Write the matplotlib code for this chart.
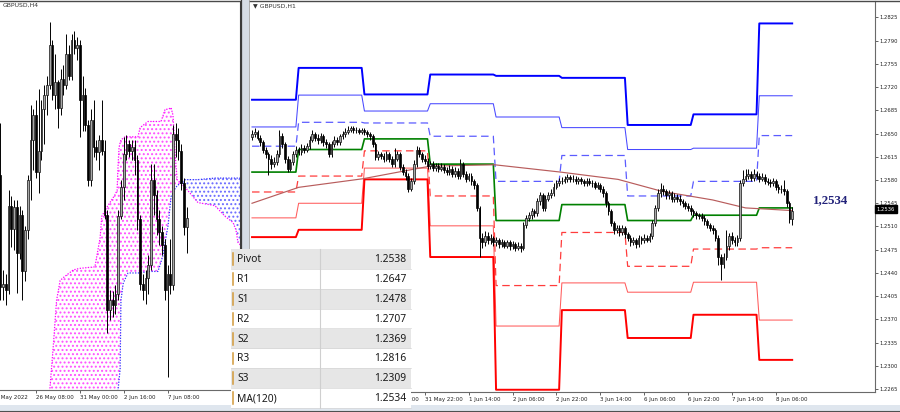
import numpy as np
import matplotlib
matplotlib.use("Agg")
import matplotlib.pyplot as plt
from matplotlib.patches import Rectangle

plt.rcParams['font.family'] = ['DejaVu Sans']
plt.rcParams['hatch.linewidth'] = 0.9

# ================= DATA : right chart, GBPUSD H1 =================
h1_first_open = 1.2645
h1_close = [1.2649, 1.2652, 1.2644, 1.2637, 1.2626, 1.2619, 1.2612, 1.2604, 1.2607, 1.2619,
            1.2646, 1.2634, 1.2612, 1.2597, 1.2607, 1.2619, 1.2626, 1.2622, 1.2629, 1.2626,
            1.2631, 1.2641, 1.2649, 1.2644, 1.2640, 1.2646, 1.2637, 1.2634, 1.2619, 1.2634,
            1.2641, 1.2637, 1.2646, 1.2649, 1.2653, 1.2656, 1.2658, 1.2655, 1.2656, 1.2653,
            1.2655, 1.2652, 1.2649, 1.2646, 1.2634, 1.2615, 1.2619, 1.2616, 1.2612, 1.2619,
            1.2612, 1.2604, 1.2612, 1.2619, 1.2600, 1.2592, 1.2586, 1.2567, 1.2578, 1.2604,
            1.2626, 1.2619, 1.2612, 1.2609, 1.2601, 1.2604, 1.2598, 1.2601, 1.2597, 1.2600,
            1.2595, 1.2592, 1.2597, 1.2589, 1.2594, 1.2586, 1.2604, 1.2589, 1.2582, 1.2586,
            1.2578, 1.2572, 1.2538, 1.2493, 1.2486, 1.2496, 1.2489, 1.2492, 1.2486, 1.2489,
            1.2483, 1.2486, 1.2481, 1.2486, 1.2480, 1.2483, 1.2478, 1.2481, 1.2477, 1.2512,
            1.2523, 1.2527, 1.2533, 1.2530, 1.2548, 1.2557, 1.2538, 1.2552, 1.2557, 1.2560,
            1.2570, 1.2575, 1.2578, 1.2579, 1.2581, 1.2584, 1.2581, 1.2582, 1.2578, 1.2581,
            1.2578, 1.2575, 1.2579, 1.2576, 1.2575, 1.2570, 1.2572, 1.2567, 1.2560, 1.2545,
            1.2533, 1.2515, 1.2504, 1.2508, 1.2501, 1.2507, 1.2498, 1.2493, 1.2486, 1.2489,
            1.2483, 1.2492, 1.2489, 1.2493, 1.2490, 1.2495, 1.2515, 1.2538, 1.2560, 1.2567,
            1.2563, 1.2557, 1.2560, 1.2552, 1.2555, 1.2552, 1.2548, 1.2545, 1.2541, 1.2538,
            1.2533, 1.2530, 1.2527, 1.2526, 1.2523, 1.2518, 1.2512, 1.2508, 1.2504, 1.2493,
            1.2464, 1.2453, 1.2464, 1.2480, 1.2495, 1.2489, 1.2486, 1.2492, 1.2575, 1.2582,
            1.2586, 1.2589, 1.2583, 1.2589, 1.2586, 1.2582, 1.2585, 1.2579, 1.2577, 1.2575,
            1.2578, 1.2570, 1.2566, 1.2567, 1.2563, 1.2545, 1.2522, 1.2533]
h1_high = [1.2655, 1.2658, 1.2656, 1.2648, 1.2641, 1.2630, 1.2623, 1.2617, 1.2615, 1.2625,
           1.2656, 1.2651, 1.2638, 1.2616, 1.2612, 1.2624, 1.2632, 1.2630, 1.2634, 1.2633,
           1.2636, 1.2646, 1.2655, 1.2653, 1.2649, 1.2651, 1.2650, 1.2642, 1.2638, 1.2639,
           1.2646, 1.2645, 1.2650, 1.2654, 1.2658, 1.2661, 1.2662, 1.2661, 1.2660, 1.2659,
           1.2659, 1.2658, 1.2655, 1.2652, 1.2650, 1.2638, 1.2624, 1.2623, 1.2620, 1.2624,
           1.2623, 1.2616, 1.2629, 1.2624, 1.2622, 1.2604, 1.2596, 1.2590, 1.2583, 1.2610,
           1.2631, 1.2630, 1.2623, 1.2617, 1.2613, 1.2609, 1.2608, 1.2606, 1.2605, 1.2605,
           1.2604, 1.2599, 1.2602, 1.2601, 1.2599, 1.2598, 1.2612, 1.2607, 1.2593, 1.2591,
           1.2590, 1.2582, 1.2575, 1.2541, 1.2500, 1.2503, 1.2501, 1.2499, 1.2496, 1.2494,
           1.2493, 1.2491, 1.2490, 1.2490, 1.2489, 1.2488, 1.2487, 1.2486, 1.2485, 1.2517,
           1.2528, 1.2532, 1.2538, 1.2537, 1.2553, 1.2562, 1.2560, 1.2557, 1.2562, 1.2566,
           1.2576, 1.2580, 1.2583, 1.2584, 1.2586, 1.2589, 1.2588, 1.2587, 1.2586, 1.2585,
           1.2585, 1.2582, 1.2583, 1.2583, 1.2580, 1.2579, 1.2577, 1.2576, 1.2571, 1.2564,
           1.2549, 1.2537, 1.2519, 1.2513, 1.2512, 1.2512, 1.2511, 1.2502, 1.2497, 1.2494,
           1.2493, 1.2497, 1.2496, 1.2498, 1.2497, 1.2500, 1.2520, 1.2543, 1.2566, 1.2575,
           1.2572, 1.2567, 1.2565, 1.2564, 1.2560, 1.2559, 1.2558, 1.2552, 1.2549, 1.2545,
           1.2542, 1.2537, 1.2534, 1.2531, 1.2530, 1.2527, 1.2522, 1.2516, 1.2512, 1.2508,
           1.2497, 1.2468, 1.2470, 1.2504, 1.2500, 1.2502, 1.2494, 1.2497, 1.2580, 1.2595,
           1.2597, 1.2596, 1.2594, 1.2597, 1.2594, 1.2590, 1.2590, 1.2589, 1.2583, 1.2581,
           1.2583, 1.2582, 1.2574, 1.2572, 1.2580, 1.2567, 1.2549, 1.2540]
h1_low = [1.2641, 1.2645, 1.2640, 1.2632, 1.2621, 1.2613, 1.2587, 1.2597, 1.2599, 1.2603,
          1.2615, 1.2628, 1.2606, 1.2592, 1.2593, 1.2603, 1.2615, 1.2617, 1.2618, 1.2621,
          1.2622, 1.2627, 1.2637, 1.2639, 1.2635, 1.2636, 1.2632, 1.2629, 1.2614, 1.2615,
          1.2630, 1.2633, 1.2633, 1.2642, 1.2645, 1.2649, 1.2652, 1.2651, 1.2651, 1.2649,
          1.2649, 1.2648, 1.2645, 1.2641, 1.2630, 1.2610, 1.2610, 1.2611, 1.2607, 1.2608,
          1.2607, 1.2599, 1.2600, 1.2608, 1.2595, 1.2587, 1.2580, 1.2562, 1.2563, 1.2574,
          1.2600, 1.2614, 1.2607, 1.2604, 1.2596, 1.2597, 1.2594, 1.2594, 1.2592, 1.2593,
          1.2590, 1.2587, 1.2588, 1.2585, 1.2585, 1.2581, 1.2582, 1.2584, 1.2577, 1.2578,
          1.2573, 1.2567, 1.2533, 1.2464, 1.2478, 1.2481, 1.2484, 1.2484, 1.2481, 1.2481,
          1.2478, 1.2479, 1.2477, 1.2477, 1.2475, 1.2476, 1.2473, 1.2474, 1.2471, 1.2474,
          1.2508, 1.2518, 1.2522, 1.2525, 1.2526, 1.2543, 1.2533, 1.2534, 1.2548, 1.2553,
          1.2556, 1.2566, 1.2571, 1.2574, 1.2575, 1.2577, 1.2577, 1.2577, 1.2574, 1.2574,
          1.2574, 1.2571, 1.2571, 1.2572, 1.2570, 1.2566, 1.2566, 1.2562, 1.2555, 1.2540,
          1.2527, 1.2510, 1.2499, 1.2500, 1.2496, 1.2497, 1.2493, 1.2488, 1.2481, 1.2482,
          1.2478, 1.2479, 1.2484, 1.2485, 1.2486, 1.2486, 1.2491, 1.2511, 1.2534, 1.2555,
          1.2558, 1.2552, 1.2552, 1.2547, 1.2547, 1.2547, 1.2543, 1.2540, 1.2536, 1.2533,
          1.2528, 1.2525, 1.2522, 1.2521, 1.2518, 1.2513, 1.2507, 1.2503, 1.2499, 1.2488,
          1.2452, 1.2429, 1.2448, 1.2459, 1.2475, 1.2484, 1.2481, 1.2480, 1.2488, 1.2571,
          1.2578, 1.2581, 1.2578, 1.2579, 1.2581, 1.2577, 1.2578, 1.2574, 1.2572, 1.2570,
          1.2571, 1.2565, 1.2561, 1.2561, 1.2558, 1.2540, 1.2516, 1.2513]

# bars per trading day: 27 May, 30 May, 31 May, 1 Jun, 2 Jun, 3 Jun, 6 Jun, 7 Jun, 8 Jun
day_lengths = [17, 24, 24, 24, 24, 24, 24, 24, 13]
pivot = [1.2592, 1.2626, 1.2642, 1.2604, 1.2519, 1.2543, 1.2519, 1.2527, 1.2538]
r1 = [1.2631, 1.2667, 1.2666, 1.2646, 1.2578, 1.2617, 1.2556, 1.2578, 1.2647]
r2 = [1.2660, 1.2708, 1.2684, 1.2695, 1.2675, 1.2659, 1.2626, 1.2628, 1.2707]
r3 = [1.2701, 1.2749, 1.2709, 1.2739, 1.2737, 1.2734, 1.2663, 1.2679, 1.2816]
s1 = [1.2562, 1.2586, 1.2624, 1.2556, 1.2421, 1.2501, 1.2450, 1.2476, 1.2478]
s2 = [1.2523, 1.2545, 1.2598, 1.2511, 1.2360, 1.2425, 1.2411, 1.2426, 1.2369]
s3 = [1.2494, 1.2505, 1.2581, 1.2464, 1.2264, 1.2384, 1.2342, 1.2377, 1.2309]
ma_bar = [0, 17, 40.5, 65, 88.5, 112.5, 133.5, 149.5, 168, 180, 197]
ma120 = [1.2545, 1.2569, 1.2582, 1.2601, 1.2603, 1.2592, 1.2581, 1.2563, 1.2550, 1.2538, 1.2534]
last_bid = 1.2536

price_ticks = [1.2825, 1.2790, 1.2755, 1.2720, 1.2685, 1.2650, 1.2615, 1.2580,
               1.2545, 1.2510, 1.2475, 1.2440, 1.2405, 1.2370, 1.2335, 1.2300, 1.2265]
h1_tick_bars = [47, 63, 79, 95, 111, 127, 143, 159, 175, 191]
h1_tick_labels = ["31 May 06:00", "31 May 22:00",
                  "1 Jun 14:00", "2 Jun 06:00", "2 Jun 22:00", "3 Jun 14:00",
                  "6 Jun 06:00", "6 Jun 22:00", "7 Jun 14:00", "8 Jun 06:00"]

# ================= DATA : left chart, GBPUSD H4 =================
h4_first_open = 1.2562
h4_close = [1.2489, 1.2491, 1.2487, 1.2542, 1.2527, 1.2541, 1.2511, 1.2536, 1.2499, 1.2526,
            1.2559, 1.2585, 1.2601, 1.2564, 1.2578, 1.2605, 1.2614, 1.2621, 1.2647, 1.2614,
            1.2623, 1.2606, 1.2625, 1.2621, 1.2641, 1.2627, 1.2650, 1.2645, 1.2647, 1.2611,
            1.2614, 1.2595, 1.2559, 1.2598, 1.2580, 1.2577, 1.2585, 1.2578, 1.2536, 1.2474,
            1.2480, 1.2477, 1.2484, 1.2535, 1.2554, 1.2576, 1.2582, 1.2578, 1.2580, 1.2572,
            1.2533, 1.2491, 1.2487, 1.2495, 1.2503, 1.2559, 1.2549, 1.2533, 1.2525, 1.2516,
            1.2487, 1.2497, 1.2490, 1.2589, 1.2585, 1.2578, 1.2557, 1.2528, 1.2534]
h4_high = [1.2596, 1.2500, 1.2497, 1.2552, 1.2548, 1.2546, 1.2546, 1.2542, 1.2539, 1.2529,
           1.2562, 1.2608, 1.2605, 1.2611, 1.2618, 1.2611, 1.2621, 1.2627, 1.2662, 1.2650,
           1.2641, 1.2624, 1.2631, 1.2634, 1.2654, 1.2647, 1.2654, 1.2656, 1.2652, 1.2650,
           1.2627, 1.2619, 1.2598, 1.2605, 1.2611, 1.2585, 1.2588, 1.2611, 1.2585, 1.2539,
           1.2487, 1.2486, 1.2490, 1.2539, 1.2559, 1.2587, 1.2588, 1.2585, 1.2585, 1.2585,
           1.2575, 1.2536, 1.2497, 1.2500, 1.2510, 1.2569, 1.2569, 1.2552, 1.2539, 1.2529,
           1.2520, 1.2503, 1.2520, 1.2595, 1.2596, 1.2593, 1.2582, 1.2560, 1.2541]
h4_low = [1.2480, 1.2480, 1.2477, 1.2484, 1.2515, 1.2513, 1.2485, 1.2507, 1.2480, 1.2493,
          1.2520, 1.2546, 1.2565, 1.2560, 1.2550, 1.2572, 1.2582, 1.2601, 1.2618, 1.2611,
          1.2605, 1.2593, 1.2601, 1.2614, 1.2618, 1.2624, 1.2624, 1.2641, 1.2637, 1.2587,
          1.2591, 1.2591, 1.2555, 1.2555, 1.2574, 1.2572, 1.2565, 1.2575, 1.2533, 1.2459,
          1.2467, 1.2469, 1.2471, 1.2480, 1.2533, 1.2546, 1.2572, 1.2574, 1.2572, 1.2562,
          1.2526, 1.2487, 1.2480, 1.2478, 1.2484, 1.2500, 1.2536, 1.2523, 1.2516, 1.2510,
          1.2480, 1.2430, 1.2484, 1.2487, 1.2574, 1.2572, 1.2552, 1.2523, 1.2511]

ichi_k = [16.6, 18.1, 19.3, 20.5, 21.8, 23.0, 26.6, 29.0, 34.5, 36.4, 37.0, 38.9, 40.7, 41.8,
          42.6, 42.9, 43.3, 43.7, 44.0, 44.8, 45.5, 46.6, 50.2, 51.0, 53.9, 57.5, 58.6, 59.4,
          60.1, 61.2, 62.3, 63.0, 63.7, 64.1, 64.5, 67.4, 72.1, 78.3, 82.0, 84.9, 86.0, 86.7, 89.3]
span_a = [1.2395, 1.2395, 1.2395, 1.2395, 1.2395, 1.2395, 1.2395, 1.2395, 1.2395, 1.2395,
          1.2395, 1.2395, 1.2395, 1.2395, 1.2414, 1.2421, 1.2428, 1.2435, 1.2480, 1.2491,
          1.2494, 1.2498, 1.2498, 1.2498, 1.2499, 1.2499, 1.2505, 1.2510, 1.2518, 1.2529,
          1.2548, 1.2550, 1.2553, 1.2554, 1.2555, 1.2559, 1.2559, 1.2560, 1.2560, 1.2560,
          1.2560, 1.2560, 1.2560]
span_b = [1.2402, 1.2423, 1.2450, 1.2480, 1.2493, 1.2495, 1.2500, 1.2501, 1.2502, 1.2521,
          1.2535, 1.2541, 1.2546, 1.2549, 1.2552, 1.2566, 1.2580, 1.2583, 1.2585, 1.2586,
          1.2587, 1.2587, 1.2587, 1.2593, 1.2597, 1.2597, 1.2597, 1.2601, 1.2605, 1.2605,
          1.2606, 1.2601, 1.2578, 1.2568, 1.2559, 1.2554, 1.2544, 1.2542, 1.2535, 1.2531,
          1.2526, 1.2518, 1.2513]
h4_tick_k = [-3, 13, 29, 45, 61]
h4_tick_labels = ["23 May 2022", "26 May 08:00", "31 May 00:00", "2 Jun 16:00", "7 Jun 08:00"]

table_names = ["Pivot", "R1", "S1", "R2", "S2", "R3", "S3", "MA(120)"]

# ================= FIGURE =================
W, H = 900, 412
fig = plt.figure(figsize=(W / 100, H / 100), dpi=100)
fig.patch.set_facecolor('white')


def add_px_axes(x0, y0, x1, y1):
    return fig.add_axes([x0 / W, 1 - y1 / H, (x1 - x0) / W, (y1 - y0) / H])


def draw_candles(ax, o, h, l, c, width, bull_face):
    o, h, l, c = map(np.asarray, (o, h, l, c))
    x = np.arange(len(c))
    ax.vlines(x, l, h, color='black', lw=0.7, zorder=4)
    bottom = np.minimum(o, c)
    height = np.maximum(np.abs(c - o), 0.00004)
    up = c >= o
    ax.bar(x[up], height[up], bottom=bottom[up], width=width, facecolor=bull_face,
           edgecolor='#111111', linewidth=0.5, zorder=5)
    ax.bar(x[~up], height[~up], bottom=bottom[~up], width=width, facecolor='black',
           edgecolor='black', linewidth=0.5, zorder=5)


def style_spines(ax, show):
    for side in ['top', 'bottom', 'left', 'right']:
        ax.spines[side].set_visible(side in show)
        ax.spines[side].set_color('#6a6a6a')
        ax.spines[side].set_linewidth(0.8)


# ---------- left H4 chart ----------
axl = add_px_axes(0, 1, 240, 390)
axl.set_xlim(-0.14, 87.45)
axl.set_ylim(1.24215, 1.267575)
ka = np.array(ichi_k)
sa = np.array(span_a)
sb = np.array(span_b)
axl.fill_between(ka, sa, sb, where=sb >= sa, interpolate=True, facecolor='none',
                 edgecolor='#ff4dff', hatch='....', linewidth=0, zorder=1)
axl.fill_between(ka, sa, sb, where=sb < sa, interpolate=True, facecolor='none',
                 edgecolor='#6a6aff', hatch='....', linewidth=0, zorder=1)
axl.plot(ka, sb, color='#ff00ff', lw=0.9, ls=(0, (1, 1.2)), zorder=2)
axl.plot(ka, sa, color='#3030ff', lw=0.9, ls=(0, (1, 1.2)), zorder=2)
h4_open = [h4_first_open] + h4_close[:-1]
draw_candles(axl, h4_open, h4_high, h4_low, h4_close, 0.62, '#a8a8a8')
axl.set_yticks([])
in_range = [(k, t) for k, t in zip(h4_tick_k, h4_tick_labels) if k >= 0]
axl.set_xticks([k for k, _ in in_range])
axl.set_xticklabels([t for _, t in in_range])
axl.tick_params(axis='x', length=2, width=0.5, pad=1.5, labelsize=4.0, colors='#222222')
for lab in axl.get_xticklabels():
    lab.set_ha('left')
for k, t in zip(h4_tick_k, h4_tick_labels):
    if k < 0:
        axl.annotate(t, xy=(k, 0), xycoords=axl.get_xaxis_transform(), xytext=(0, -3.5),
                     textcoords='offset points', ha='left', va='top', fontsize=4.0,
                     color='#222222', annotation_clip=False)
style_spines(axl, ['bottom', 'right'])
axl.spines['right'].set_color('#3a3a3a')

# ---------- right H1 chart ----------
axr = add_px_axes(249, 1, 875, 392)
axr.set_xlim(-1.1, 227.2)
axr.set_ylim(1.22606, 1.28498)
nb = len(h1_close)
xb = np.arange(nb)


def per_bar(levels):
    return np.repeat(levels, day_lengths)


axr.plot(xb, per_bar(r3), color='#0000ff', lw=1.4, zorder=2)
axr.plot(xb, per_bar(r2), color='#4848ff', lw=0.75, zorder=2)
axr.plot(xb, per_bar(r1), color='#5c5cff', lw=0.9, ls=(0, (6, 3.5)), zorder=2)
axr.plot(xb, per_bar(pivot), color='#008000', lw=1.2, zorder=2)
axr.plot(xb, per_bar(s1), color='#ff3c3c', lw=0.9, ls=(0, (6, 3.5)), zorder=2)
axr.plot(xb, per_bar(s2), color='#ff5c5c', lw=0.75, zorder=2)
axr.plot(xb, per_bar(s3), color='#ff0000', lw=1.4, zorder=2)
axr.plot(ma_bar, ma120, color='#b85c5c', lw=0.85, zorder=3)
h1_open = [h1_first_open] + h1_close[:-1]
draw_candles(axr, h1_open, h1_high, h1_low, h1_close, 0.62, '#a8a8a8')

axr.yaxis.tick_right()
axr.set_yticks(price_ticks)
axr.set_yticklabels([f"{v:.4f}" for v in price_ticks])
axr.tick_params(axis='y', length=2, width=0.5, pad=1.2, labelsize=3.8, colors='#222222')
axr.set_xticks(h1_tick_bars)
axr.set_xticklabels(h1_tick_labels)
axr.tick_params(axis='x', length=2, width=0.5, pad=1.5, labelsize=4.0, colors='#222222')
for lab in axr.get_xticklabels():
    lab.set_ha('left')
style_spines(axr, ['bottom', 'right'])

ma_now = ma120[-1]
axr.text(211, ma_now + 0.0015, f"{ma_now:.4f}".replace('.', ','), ha='center', va='center',
         fontsize=9.3, fontweight='bold', family=['Liberation Serif', 'DejaVu Serif'],
         color='#23237a', zorder=6)
axr.annotate(f"{last_bid:.4f}", xy=(1, last_bid), xycoords=axr.get_yaxis_transform(),
             xytext=(1.3, 0), textcoords='offset points', ha='left', va='center',
             fontsize=3.8, color='white', annotation_clip=False, zorder=10,
             bbox=dict(boxstyle='square,pad=0.3', fc='black', ec='black'))

# ---------- overlay: frame, separator, titles, data window table ----------
ov = fig.add_axes([0, 0, 1, 1], zorder=10)
ov.set_xlim(0, W)
ov.set_ylim(H, 0)
ov.axis('off')
ov.patch.set_alpha(0)
ov.plot([0, W], [0.5, 0.5], color='#4a4a4a', lw=1, zorder=1)
ov.add_patch(Rectangle((240.5, 0), 8, 405, facecolor='#d5dce5', edgecolor='none', zorder=1))
ov.plot([240.8, 240.8], [0, 405], color='#3a3a3a', lw=0.9, zorder=1)
ov.plot([248.5, 248.5], [0, 405], color='#a0a0a0', lw=0.6, zorder=1)
ov.add_patch(Rectangle((0, 405), W, 7, facecolor='#dfe6ee', edgecolor='none', zorder=1))
ov.plot([0, W], [410.8, 410.8], color='#505050', lw=0.8, zorder=1)

ov.text(3, 5.5, "GBPUSD,H4", fontsize=4.4, color='#333333', va='center', ha='left', zorder=2)
ov.text(253, 5.5, "\u25bc GBPUSD,H1", fontsize=4.4, color='#333333', va='center', ha='left', zorder=2)

table_values = [pivot[-1], r1[-1], s1[-1], r2[-1], s2[-1], r3[-1], s3[-1], ma120[-1]]
row_top, row_h = 249.3, 19.85
tx0, tx1, tcol = 230.5, 410.5, 319.5
for i, (name, val) in enumerate(zip(table_names, table_values)):
    y0 = row_top + i * row_h
    face = '#e6e6e6' if i % 2 == 0 else '#ffffff'
    ov.add_patch(Rectangle((tx0, y0), tx1 - tx0, row_h, facecolor=face,
                           edgecolor='none', zorder=5))
    ov.plot([tx0, tx1], [y0 + row_h - 0.3, y0 + row_h - 0.3], color='#d6d6d6', lw=0.5, zorder=6)
    ov.plot([232.6, 232.6], [y0 + 4, y0 + row_h - 4], color='#d29a3a', lw=1.1, zorder=6)
    ov.text(237, y0 + row_h / 2 + 0.5, name, fontsize=7.4, color='#1a1a1a',
            family=['Noto Sans', 'DejaVu Sans'], ha='left', va='center', zorder=7)
    ov.text(406.5, y0 + row_h / 2 + 0.5, f"{val:.4f}", fontsize=7.4, color='#1a1a1a',
            family=['Noto Sans', 'DejaVu Sans'], ha='right', va='center', zorder=7)
ov.plot([tcol, tcol], [row_top, row_top + 8 * row_h], color='#cfcfcf', lw=0.8, zorder=6)

# the part of the 31 May 06:00 label under the data window is hidden, as on screen
clip = Rectangle((tx1, 0), W, H, transform=ov.transData)
for lab in axr.get_xticklabels():
    if lab.get_text() == "31 May 06:00":
        lab.set_clip_path(clip)

fig.savefig("out.png", dpi=100, facecolor='white')
